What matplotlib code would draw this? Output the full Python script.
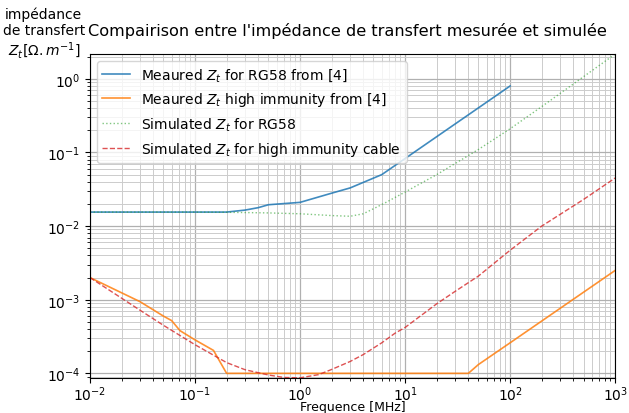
import matplotlib
matplotlib.use("Agg")
import matplotlib.pyplot as plt

# Measured RG58 (MHz, Ohm/m)
f_rg58_meas = [0.01, 0.2, 0.3, 0.4, 0.5, 1, 2, 3, 6, 100]
z_rg58_meas = [0.0155, 0.0155, 0.0165, 0.0178, 0.0195, 0.021, 0.028, 0.033, 0.05, 0.8]

# Measured high immunity cable
f_hi_meas = [0.01, 0.03, 0.05, 0.06, 0.072, 0.1, 0.15, 0.2, 40, 50, 100, 1000]
z_hi_meas = [0.002, 0.00094, 0.0006, 0.00052, 0.00038, 0.000285, 0.000205, 0.0001,
             0.0001, 0.000132, 0.00026, 0.0025]

# Simulated RG58
f_rg58_sim = [0.01, 0.1, 0.2, 0.5, 1, 2, 3, 4, 5, 6.5, 10, 20, 50, 100, 200, 500, 1000]
z_rg58_sim = [0.0155, 0.0155, 0.0154, 0.0151, 0.0147, 0.0139, 0.0136, 0.0147, 0.0172,
              0.0208, 0.029, 0.05, 0.11, 0.21, 0.42, 1.07, 2.17]

# Simulated high immunity cable
f_hi_sim = [0.01, 0.02, 0.03, 0.05, 0.1, 0.2, 0.3, 0.5, 0.7, 1, 1.5, 2, 3, 4, 6, 8, 10,
            20, 30, 50, 100, 200, 500, 1000]
z_hi_sim = [2.0e-3, 1.05e-3, 7.2e-4, 4.5e-4, 2.45e-4, 1.4e-4, 1.12e-4, 9.5e-5, 8.8e-5,
            8.7e-5, 9.6e-5, 1.13e-4, 1.45e-4, 1.8e-4, 2.6e-4, 3.5e-4, 4.2e-4, 8.8e-4,
            1.3e-3, 2.1e-3, 4.7e-3, 1.0e-2, 2.3e-2, 4.5e-2]

fig = plt.figure(figsize=(6.29, 4.14), dpi=100)
ax = fig.add_axes([0.143, 0.085, 0.835, 0.782])

ax.loglog(f_rg58_meas, z_rg58_meas, color="C0", lw=1.2, alpha=0.85,
          label="Meaured $Z_t$ for RG58 from [4]")
ax.loglog(f_hi_meas, z_hi_meas, color="C1", lw=1.2, alpha=0.85,
          label="Meaured $Z_t$ high immunity from [4]")
ax.loglog(f_rg58_sim, z_rg58_sim, color="C2", lw=1, ls=":", alpha=0.6,
          label="Simulated $Z_t$ for RG58")
ax.loglog(f_hi_sim, z_hi_sim, color="C3", lw=1, ls="--", alpha=0.8,
          label="Simulated $Z_t$ for high immunity cable")

ax.set_xlim(1e-2, 1e3)
ax.set_ylim(min(z_hi_sim), max(z_rg58_sim))
ax.grid(True, which="major", color="#b0b0b0", lw=0.9)
ax.grid(True, which="minor", color="#cccccc", lw=0.7)

ax.set_title("Compairison entre l'impédance de transfert mesurée et simulée",
             fontsize=11.6, pad=14, x=0.49)
ax.set_xlabel("Frequence [MHz]", fontsize=9)
ax.xaxis.set_label_coords(0.5, -0.07)
ax.set_ylabel("impédance\nde transfert\n$Z_t[\\Omega.m^{-1}]$", rotation=0,
              fontsize=10, ha="center", va="center")
ax.yaxis.set_label_coords(-0.088, 1.064)
ax.tick_params(labelsize=10)
ax.tick_params(axis="x", pad=1.5)
ax.legend(loc="upper left", fontsize=10)

fig.savefig("out.png")
